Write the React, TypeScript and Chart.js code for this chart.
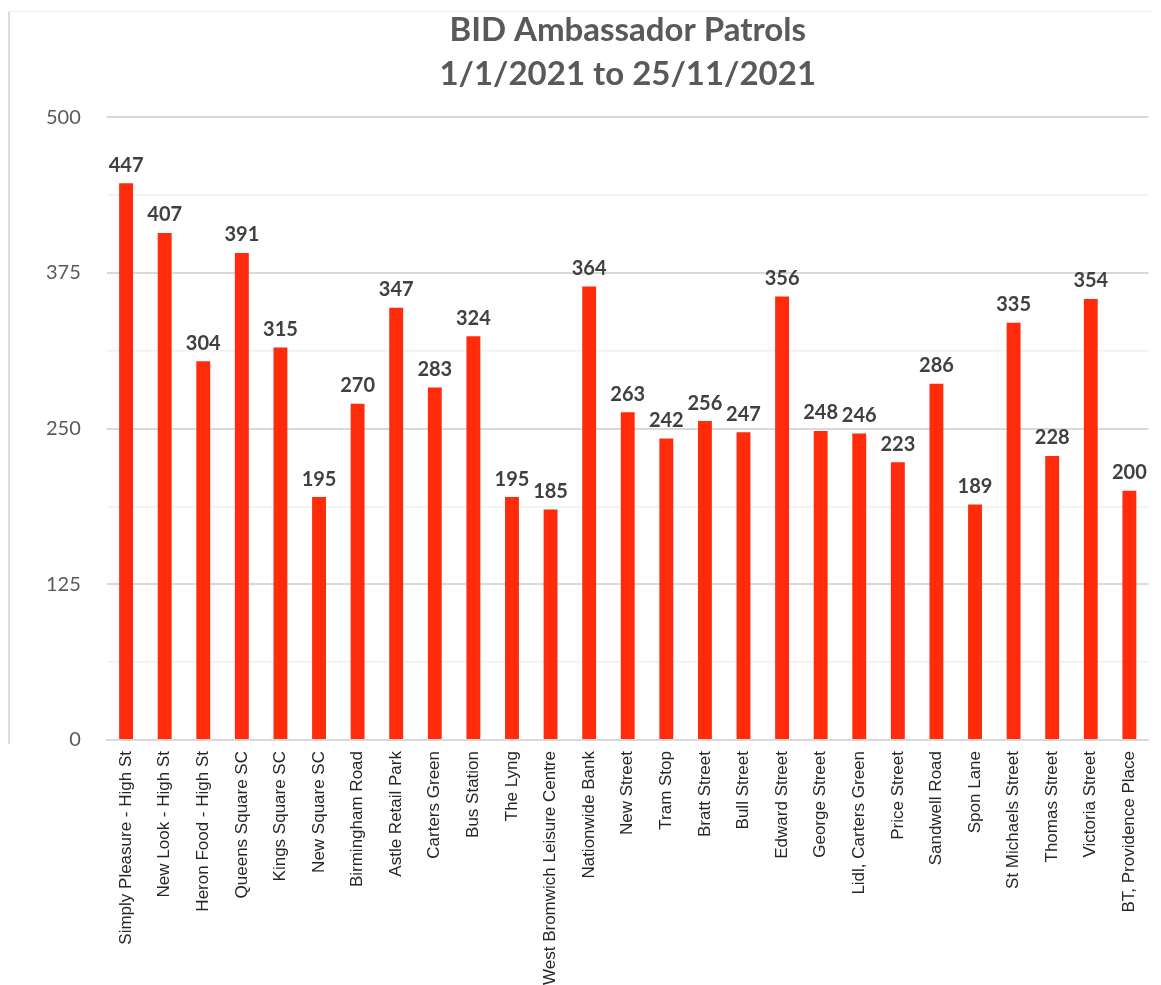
import React, { useEffect, useRef } from "react";
import { Chart, registerables } from "chart.js";

Chart.register(...registerables);

const titleLines = ["BID Ambassador Patrols", "1/1/2021 to 25/11/2021"];

const categories = [
  "Simply Pleasure - High St",
  "New Look - High St",
  "Heron Food - High St",
  "Queens Square SC",
  "Kings Square SC",
  "New Square SC",
  "Birmingham Road",
  "Astle Retail Park",
  "Carters Green",
  "Bus Station",
  "The Lyng",
  "West Bromwich Leisure Centre",
  "Nationwide Bank",
  "New Street",
  "Tram Stop",
  "Bratt Street",
  "Bull Street",
  "Edward Street",
  "George Street",
  "Lidl, Carters Green",
  "Price Street",
  "Sandwell Road",
  "Spon Lane",
  "St Michaels Street",
  "Thomas Street",
  "Victoria Street",
  "BT, Providence Place",
];

const patrols = [
  447, 407, 304, 391, 315, 195, 270, 347, 283, 324, 195, 185, 364, 263, 242,
  256, 247, 356, 248, 246, 223, 286, 189, 335, 228, 354, 200,
];

const yMin = 0;
const yMax = 500;
const yStep = 62.5;
const yLabelStep = 125;

const valueLabels = {
  id: "valueLabels",
  afterDatasetsDraw(chart: any) {
    const { ctx } = chart;
    const meta = chart.getDatasetMeta(0);
    ctx.save();
    ctx.font = "bold 20px Lato, 'Open Sans', sans-serif";
    ctx.fillStyle = "#404040";
    ctx.textAlign = "center";
    ctx.textBaseline = "bottom";
    meta.data.forEach((bar: any, i: number) => {
      ctx.fillText(String(patrols[i]), bar.x, bar.y - 8);
    });
    ctx.restore();
  },
};

export default function App() {
  const ref = useRef<HTMLCanvasElement | null>(null);

  useEffect(() => {
    if (!ref.current) return;
    const chart = new Chart(ref.current, {
      type: "bar",
      data: {
        labels: categories,
        datasets: [
          {
            data: patrols,
            backgroundColor: "#FF2B0B",
            borderWidth: 0,
            categoryPercentage: 1,
            barPercentage: 0.36,
          },
        ],
      },
      options: {
        animation: false,
        responsive: false,
        maintainAspectRatio: false,
        layout: { padding: { left: 10, right: 3, top: -4, bottom: 0 } },
        plugins: {
          legend: { display: false },
          tooltip: { enabled: false },
          title: {
            display: true,
            fullSize: false,
            text: titleLines,
            color: "#595959",
            font: { family: "Lato, 'Open Sans', sans-serif", size: 33, weight: "bold", lineHeight: 1.35 },
            padding: { top: 0, bottom: 20 },
          },
        },
        scales: {
          x: {
            grid: { display: false, drawTicks: false },
            border: { display: true, color: "#d9d9d9", width: 2 },
            ticks: {
              color: "#262626",
              maxRotation: 90,
              minRotation: 90,
              autoSkip: false,
              padding: 11,
              font: { family: "'Liberation Sans', Arial, sans-serif", size: 17 },
            },
          },
          y: {
            min: yMin,
            max: yMax,
            grid: {
              drawTicks: false,
              color: (c: any) => (c.tick && c.tick.value % yLabelStep === 0 ? "#d9d9d9" : "#f0f0f0"),
              lineWidth: (c: any) => (c.tick && c.tick.value % yLabelStep === 0 ? 2 : 1.5),
            },
            border: { display: false },
            ticks: {
              stepSize: yStep,
              autoSkip: false,
              padding: 26,
              color: "#595959",
              font: { family: "Lato, 'Open Sans', sans-serif", size: 20 },
              callback: (v: any) => (Number(v) % yLabelStep === 0 ? String(v) : ""),
            },
          },
        },
      },
      plugins: [valueLabels],
    });
    return () => chart.destroy();
  }, []);

  return (
    <div
      style={{
        position: "relative",
        marginTop: 3,
        width: 1153,
        height: 986,
        borderTop: "1px solid #efefef",
        boxSizing: "border-box",
      }}
    >
      <div
        style={{
          position: "absolute",
          left: 0,
          top: 0,
          width: 2,
          height: 732,
          background: "#dcdcdc",
        }}
      />
      <canvas
        ref={ref}
        width={1151}
        height={984}
        style={{ display: "block", marginLeft: 2 }}
      />
    </div>
  );
}
